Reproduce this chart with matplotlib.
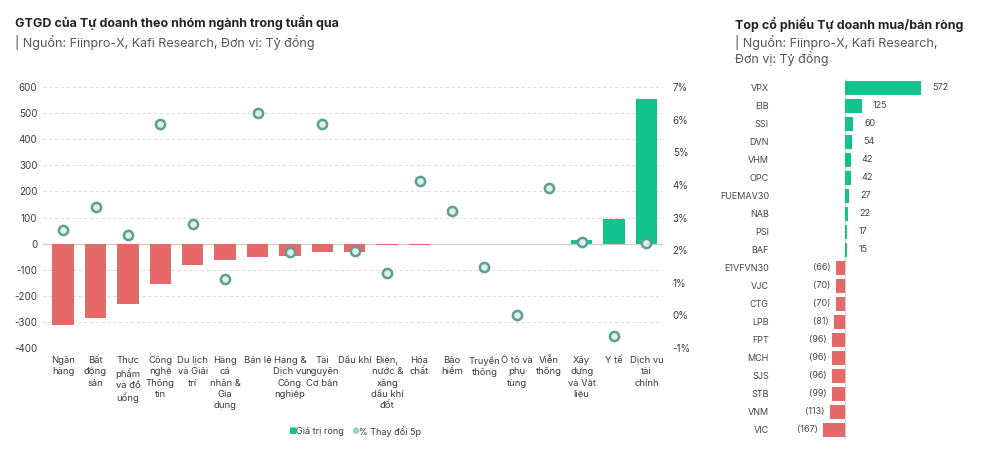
import matplotlib.pyplot as plt
import numpy as np

plt.rcParams["font.family"] = ["Inter", "DejaVu Sans"]

# Left chart: net value by sector (ty dong) and 5-session % change
sectors = [
    "Ngân\nhàng",
    "Bất\nđộng\nsản",
    "Thực\nphẩm\nvà đồ\nuống",
    "Công\nnghệ\nThông\ntin",
    "Du lịch\nvà Giải\ntrí",
    "Hàng\ncá\nnhân &\nGia\ndụng",
    "Bán lẻ",
    "Hàng &\nDịch vụ\nCông\nnghiệp",
    "Tài\nnguyên\nCơ bản",
    "Dầu khí",
    "Điện,\nnước &\nxăng\ndầu khí\nđốt",
    "Hóa\nchất",
    "Bảo\nhiểm",
    "Truyền\nthông",
    "Ô tô và\nphụ\ntùng",
    "Viễn\nthông",
    "Xây\ndựng\nvà Vật\nliệu",
    "Y tế",
    "Dịch vụ\ntài\nchính",
]
net_value = [-310, -286, -231, -154, -81, -64, -51, -49, -33, -32,
             -7, -7, 0, 0, 0, 0, 15, 94, 554]
change_5p = [2.62, 3.32, 2.47, 5.88, 2.80, 1.11, 6.20, 1.95, 5.87, 1.98,
             1.31, 4.11, 3.19, 1.49, 0.01, 3.89, 2.26, -0.63, 2.21]

left_ticks = [600, 500, 400, 300, 200, 100, 0, -100, -200, -300, -400]
right_ticks = [7, 6, 5, 4, 3, 2, 1, 0, -1]

# Right chart: top net buy / sell stocks
tickers = ["VPX", "EIB", "SSI", "DVN", "VHM", "OPC", "FUEMAV30", "NAB",
           "PSI", "BAF", "E1VFVN30", "VJC", "CTG", "LPB", "FPT", "MCH",
           "SJS", "STB", "VNM", "VIC"]
stock_value = [572, 125, 60, 54, 42, 42, 27, 22, 17, 15,
               -66, -70, -70, -81, -96, -96, -96, -99, -113, -167]

GREEN = "#12c38e"
RED = "#e46a6a"
TEAL = "#5f9e95"
TEXT = "#3a3a3a"

W, H = 1000, 458
fig = plt.figure(figsize=(10, 4.58), dpi=100)


def box(x0, y0, x1, y1):
    # pixel box -> figure fraction rect
    return [x0 / W, 1 - y1 / H, (x1 - x0) / W, (y1 - y0) / H]


# ---- left chart ----
ax = fig.add_axes(box(43, 87, 663, 348))
x = np.arange(len(sectors))
colors = [GREEN if v > 0 else RED for v in net_value]
ax.bar(x, net_value, width=0.66, color=colors, zorder=2)
ax.set_ylim(-400, 600)
ax.set_xlim(-0.62, len(sectors) - 0.49)
ax.set_yticks(left_ticks)
ax.set_yticklabels([str(t) for t in left_ticks], fontsize=7, color=TEXT)
ax.yaxis.grid(True, color="#d9d9d9", linestyle=(0, (3, 3)), linewidth=0.7)
ax.axhline(0, color="#d0d0d0", linewidth=1, zorder=1)
ax.set_axisbelow(True)
ax.set_xticks(x)
ax.set_xticklabels(sectors, fontsize=6.8, color=TEXT, linespacing=1.3,
                   va="top")
ax.tick_params(axis="both", length=0)
ax.tick_params(axis="y", pad=4)
ax.tick_params(axis="x", pad=6)
for s in ax.spines.values():
    s.set_visible(False)

ax2 = ax.twinx()
ax2.scatter(x, change_5p, s=44, facecolor="#dcefe9", edgecolor=TEAL,
            linewidth=1.8, zorder=3)
ax2.set_ylim(-1, 7)
ax2.set_yticks(right_ticks)
ax2.set_yticklabels([f"{t}%" for t in right_ticks], fontsize=7, color=TEXT)
ax2.tick_params(axis="y", length=0, pad=7)
for s in ax2.spines.values():
    s.set_visible(False)

# legend
fig.text(288 / W, 1 - 432 / H, "■", fontsize=6.5, color=GREEN,
         ha="left", va="center")
fig.text(296 / W, 1 - 432 / H, "Giá trị ròng", fontsize=6.5, color=TEXT,
         ha="left", va="center")
fig.text(351 / W, 1 - 432 / H, "●", fontsize=6.5, color="#9fcfc4",
         ha="left", va="center")
fig.text(359 / W, 1 - 432 / H, "% Thay đổi 5p", fontsize=6.5, color=TEXT,
         ha="left", va="center")

fig.text(15 / W, 1 - 22 / H, "GTGD của Tự doanh theo nhóm ngành trong tuần qua",
         fontsize=9, fontweight="bold", color="#222222", ha="left", va="center")
fig.text(15 / W, 1 - 42 / H, "| Nguồn: Fiinpro-X, Kafi Research, Đơn vị: Tỷ đồng",
         fontsize=9, color="#555555", ha="left", va="center")

# ---- right chart ----
bx = fig.add_axes(box(780, 79, 990, 439))
y = np.arange(len(tickers))
bcolors = [GREEN if v > 0 else RED for v in stock_value]
bx.barh(y, stock_value, height=0.78, color=bcolors)
bx.set_xlim(-489, 1090)
bx.set_ylim(len(tickers) - 0.5, -0.5)
bx.axvline(0, color="#d0d0d0", linewidth=0.8, zorder=0)
bx.set_xticks([])
bx.set_yticks(y)
bx.set_yticklabels(tickers, fontsize=6.5, color="#444444")
bx.tick_params(axis="y", length=0, pad=8)
for s in bx.spines.values():
    s.set_visible(False)
for yi, v in zip(y, stock_value):
    if v > 0:
        bx.text(v + 85, yi, f"{v}", fontsize=6.5, color="#444444",
                ha="left", va="center")
    else:
        bx.text(v - 40, yi, f"({-v})", fontsize=6.5, color="#444444",
                ha="right", va="center")

fig.text(735 / W, 1 - 24 / H, "Top cổ phiếu Tự doanh mua/bán ròng",
         fontsize=9, fontweight="bold", color="#222222", ha="left", va="center")
fig.text(735 / W, 1 - 42 / H, "| Nguồn: Fiinpro-X, Kafi Research,",
         fontsize=9, color="#555555", ha="left", va="center")
fig.text(735 / W, 1 - 58 / H, "Đơn vị: Tỷ đồng",
         fontsize=9, color="#555555", ha="left", va="center")

fig.savefig("out.png", dpi=100, facecolor="white")
